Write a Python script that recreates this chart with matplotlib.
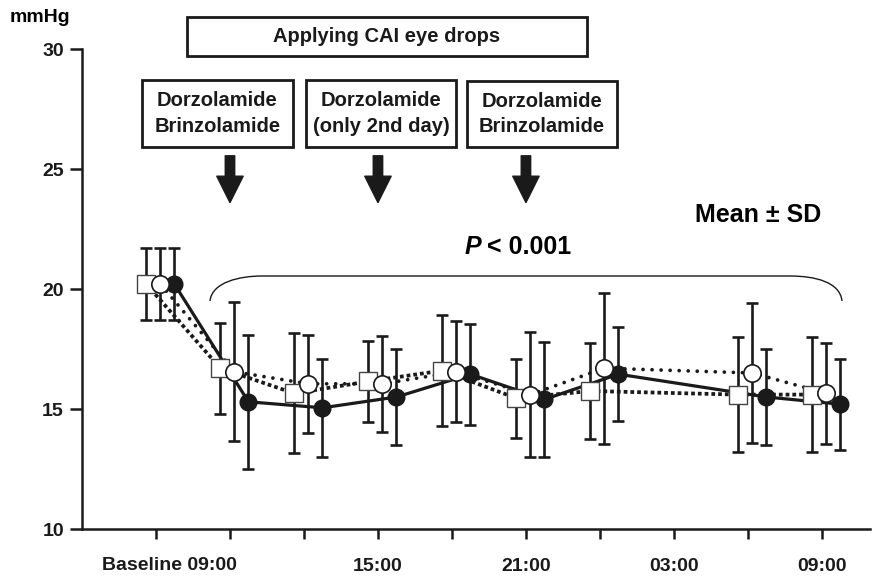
import matplotlib.pyplot as plt
from matplotlib.patches import Rectangle
from matplotlib.path import Path
from matplotlib.patches import PathPatch

plt.rcParams['font.family'] = ['Liberation Sans', 'DejaVu Sans']
plt.rcParams['font.weight'] = 'bold'

# Zeitpunkte (Index der 3-h-Raster), 03:00 wurde nicht gemessen
zeitpunkte = [0, 1, 2, 3, 4, 5, 6, 8, 9]
tick_pos = list(range(10))
tick_labels = ["", "", "", "15:00", "", "21:00", "", "03:00", "", "09:00"]

# Serie 1: offene Quadrate (gepunktet, eckig)
quadrat_mw = [20.2, 16.7, 15.65, 16.15, 16.6, 15.45, 15.75, 15.6, 15.6]
quadrat_sd = [1.5, 1.9, 2.5, 1.7, 2.3, 1.65, 2.0, 2.4, 2.4]
# Serie 2: offene Kreise (gepunktet, rund)
kreis_mw = [20.2, 16.55, 16.05, 16.05, 16.55, 15.6, 16.7, 16.5, 15.65]
kreis_sd = [1.5, 2.9, 2.05, 2.0, 2.1, 2.6, 3.15, 2.9, 2.1]
# Serie 3: gefüllte Kreise (durchgezogen)
voll_mw = [20.2, 15.3, 15.05, 15.5, 16.45, 15.4, 16.45, 15.5, 15.2]
voll_sd = [1.5, 2.8, 2.05, 2.0, 2.1, 2.4, 1.95, 2.0, 1.9]

W, H = 885, 576
fig = plt.figure(figsize=(W / 100, H / 100), dpi=100)
ax = fig.add_axes([82 / W, 1 - 529 / H, (870 - 82) / W, (529 - 49) / H])
ax.set_xlim(-1.0, 9.65)
ax.set_ylim(10, 30)


def xs(versatz):
    return [t + versatz for t in zeitpunkte]


lw_err = 1.9
# Linien
ax.plot(xs(0.25), voll_mw, color='#1a1a1a', lw=2.3, zorder=2)
ax.plot(xs(-0.13), quadrat_mw, color='#1a1a1a', lw=2.7,
        linestyle=(0, (1, 0.8)), dash_capstyle='butt', zorder=2)
ax.plot(xs(0.06), kreis_mw, color='#1a1a1a', lw=2.7,
        linestyle=(0, (0.01, 2.4)), dash_capstyle='round', zorder=2)

# Fehlerbalken
for versatz, mw, sd in [(-0.13, quadrat_mw, quadrat_sd),
                        (0.06, kreis_mw, kreis_sd),
                        (0.25, voll_mw, voll_sd)]:
    ax.errorbar(xs(versatz), mw, yerr=sd, fmt='none', ecolor='#1a1a1a',
                elinewidth=lw_err, capsize=4, capthick=lw_err, zorder=3)

# Marker
ax.plot(xs(0.25), voll_mw, 'o', ms=12, mfc='#1a1a1a', mec='#1a1a1a', zorder=4)
ax.plot(xs(-0.13), quadrat_mw, 's', ms=12.5, mfc='white', mec='#444444', mew=1.0, zorder=5)
ax.plot(xs(0.06), kreis_mw, 'o', ms=12.5, mfc='white', mec='#1a1a1a', mew=1.2, zorder=6)

# Achsen
for s in ['top', 'right']:
    ax.spines[s].set_visible(False)
for s in ['left', 'bottom']:
    ax.spines[s].set_linewidth(1.8)
    ax.spines[s].set_color('#1a1a1a')
ax.set_yticks([10, 15, 20, 25, 30])
ax.tick_params(axis='y', length=9, width=1.8, pad=4, labelsize=14, colors='#1a1a1a')
ax.set_xticks(tick_pos)
ax.set_xticklabels(tick_labels)
ax.tick_params(axis='x', length=7, width=1.8, pad=14, labelsize=14, colors='#1a1a1a')
for lab in ax.get_xticklabels() + ax.get_yticklabels():
    lab.set_fontweight('bold')


def fx(x):
    return x / W


def fy(y):
    return 1 - y / H


fig.text(fx(237), fy(557), "Baseline 09:00", ha='right', va='top',
         fontsize=14, fontweight='bold', color='#1a1a1a')

# Beschriftungen
fig.text(fx(10), fy(18), "mmHg", fontsize=14, fontweight='bold', va='center', ha='left')


def kasten(x0, x1, y0, y1, text):
    fig.patches.append(Rectangle((fx(x0), fy(y1)), fx(x1) - fx(x0), fy(y0) - fy(y1),
                                 transform=fig.transFigure, fill=False,
                                 lw=2.0, ec='#1a1a1a'))
    fig.text(fx((x0 + x1) / 2), fy((y0 + y1) / 2), text, ha='center', va='center',
             fontsize=14.5, fontweight='bold', linespacing=1.45, color='#1a1a1a')


kasten(187, 587, 17, 56, "Applying CAI eye drops")
kasten(142, 293, 80, 147, "Dorzolamide\nBrinzolamide")
kasten(306, 456, 80, 147, "Dorzolamide\n(only 2nd day)")
kasten(467, 617, 81, 147, "Dorzolamide\nBrinzolamide")

# Pfeile
for t in [1, 3, 5]:
    ax.annotate('', xy=(t, 23.6), xytext=(t, 25.55),
                arrowprops=dict(arrowstyle='simple,head_length=0.95,head_width=0.95,tail_width=0.34',
                                mutation_scale=20, fc='#1a1a1a', ec='#1a1a1a',
                                shrinkA=0, shrinkB=0), annotation_clip=False)

fig.text(fx(695), fy(215), "Mean \u00b1 SD", fontsize=18, fontweight='bold', va='center', ha='left')
fig.text(fx(465), fy(247), "P", fontsize=18, fontweight='bold', style='italic', va='center', ha='left')
fig.text(fx(487), fy(247), "< 0.001", fontsize=18, fontweight='bold', va='center', ha='left')

# Klammer
verts = [(fx(210), fy(301)), (fx(212), fy(282)), (fx(240), fy(276)), (fx(262), fy(276)),
         (fx(790), fy(276)),
         (fx(815), fy(276)), (fx(840), fy(282)), (fx(842), fy(301))]
codes = [Path.MOVETO, Path.CURVE4, Path.CURVE4, Path.CURVE4, Path.LINETO,
         Path.CURVE4, Path.CURVE4, Path.CURVE4]
fig.patches.append(PathPatch(Path(verts, codes), transform=fig.transFigure,
                             fill=False, lw=1.0, ec='#1a1a1a'))

fig.savefig('out.png', dpi=100)
